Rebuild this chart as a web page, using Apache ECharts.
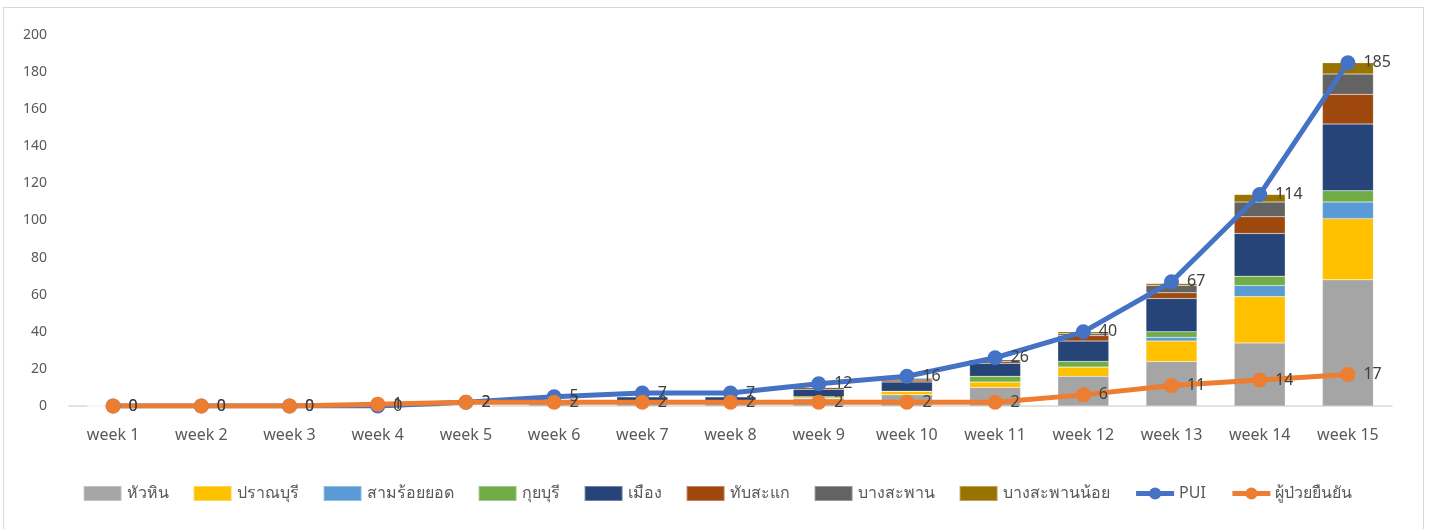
<!DOCTYPE html>
<html>
<head>
<meta charset="utf-8">
<script src="https://cdn.jsdelivr.net/npm/echarts@6/dist/echarts.min.js"></script>
<style>
html,body{margin:0;padding:0;background:#fff;}
#frame{position:absolute;left:3px;top:7px;width:1421px;height:540px;border:1px solid #d9d9d9;box-sizing:border-box;}
#chart{position:absolute;left:0;top:0;width:1435px;height:529px;}
</style>
</head>
<body>
<div id="frame"></div>
<div id="chart"></div>
<script>
const categories = ['week 1','week 2','week 3','week 4','week 5','week 6','week 7','week 8','week 9','week 10','week 11','week 12','week 13','week 14','week 15'];
const huaHin      = [0,0,0,0,0,2,2,2,4,6,10,16,24,34,68];
const pranburi    = [0,0,0,0,0,0,0,0,1,2,3,5,11,25,33];
const samRoiYot   = [0,0,0,0,0,0,0,0,0,0,0,0,2,6,9];
const kuiBuri     = [0,0,0,0,0,0,0,0,0,0,3,3,3,5,6];
const mueang      = [0,0,0,0,0,0,3,3,4,5,7,11,18,23,36];
const thapSakae   = [0,0,0,0,0,0,0,0,1,1,1,3,3,9,16];
const bangSaphan  = [0,0,0,0,0,0,0,0,0,1,1,1,4,8,11];
const bangSaphanNoi = [0,0,0,0,0,0,0,0,0,0,0,1,1,4,6];
const pui         = [0,0,0,0,2,5,7,7,12,16,26,40,67,114,185];
const confirmed   = [0,0,0,1,2,2,2,2,2,2,2,6,11,14,17];
const yTicks = [0,20,40,60,80,100,120,140,160,180,200];

const FONT = '"Noto Sans", "DejaVu Sans", sans-serif';
const barDefs = [
  ['หัวหิน', huaHin, '#A5A5A5'],
  ['ปราณบุรี', pranburi, '#FFC000'],
  ['สามร้อยยอด', samRoiYot, '#5B9BD5'],
  ['กุยบุรี', kuiBuri, '#70AD47'],
  ['เมือง', mueang, '#264478'],
  ['ทับสะแก', thapSakae, '#9E480E'],
  ['บางสะพาน', bangSaphan, '#636363'],
  ['บางสะพานน้อย', bangSaphanNoi, '#997300']
];
const series = barDefs.map(d => ({
  name: d[0], type: 'bar', stack: 'total', data: d[1], barWidth: 51,
  itemStyle: {color: d[2], borderColor: 'rgba(255,255,255,0.35)', borderWidth: 0.5},
  emphasis: {disabled: true}
}));
function lineSeries(name, data, color) {
  return {
    name: name, type: 'line', data: data, z: 5,
    symbol: 'circle', symbolSize: 15,
    lineStyle: {color: color, width: 5},
    itemStyle: {color: color},
    label: {show: true, position: 'right', distance: 8, color: '#404040', fontSize: 16, fontFamily: FONT},
    emphasis: {disabled: true}
  };
}
series.push(lineSeries('PUI', pui, '#4472C4'));
series.push(lineSeries('ผู้ป่วยยืนยัน', confirmed, '#ED7D31'));

const chart = echarts.init(document.getElementById('chart'));
chart.setOption({
  animation: false,
  backgroundColor: 'transparent',
  grid: {left: 69, right: 43, top: 35, bottom: 123, containLabel: false},
  legend: {
    bottom: 22, left: 'center', itemWidth: 38, itemHeight: 15, itemGap: 24,
    textStyle: {color: '#595959', fontSize: 16, fontFamily: FONT},
    data: barDefs.map(d => ({name: d[0], icon: 'rect'})).concat([
      {name: 'PUI', lineStyle: {width: 5}},
      {name: 'ผู้ป่วยยืนยัน', lineStyle: {width: 5}}
    ])
  },
  xAxis: {
    type: 'category', data: categories,
    axisLine: {lineStyle: {color: '#d9d9d9', width: 1.5}},
    axisTick: {show: false},
    axisLabel: {color: '#595959', fontSize: 16, fontFamily: FONT, margin: 21}
  },
  yAxis: {
    type: 'value', min: 0, max: 200, interval: 20,
    axisLine: {show: false}, axisTick: {show: false},
    splitLine: {show: false},
    axisLabel: {color: '#595959', fontSize: 14, fontFamily: FONT, margin: 22,
      formatter: v => yTicks.includes(v) ? String(v) : ''}
  },
  series: series
});
</script>
</body>
</html>
